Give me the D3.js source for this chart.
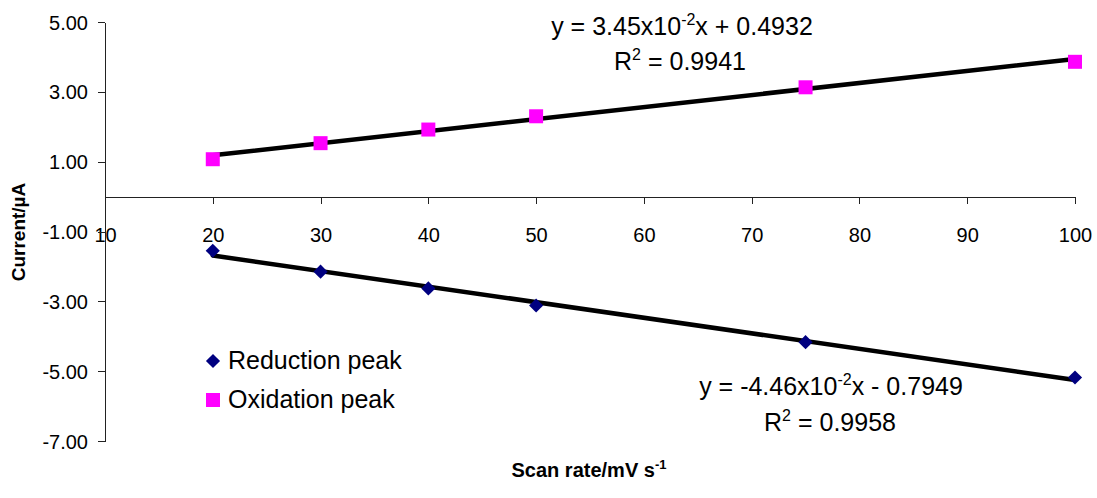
<!DOCTYPE html>
<html>
<head>
<meta charset="utf-8">
<script src="https://cdn.jsdelivr.net/npm/d3@7"></script>
<style>
    body { margin: 0; background: #fff; }
    svg { display: block; font-family: Arial, "Liberation Sans", sans-serif; }
</style>
</head>
<body>
<div id="chart"></div>
<script>
const width = 1097,
    height = 498;

// scan rate (mV/s) and peak currents (µA)
const scanRate = [20, 30, 40, 50, 75, 100];
const reductionPeak = [-1.55, -2.15, -2.63, -3.12, -4.17, -5.18];
const oxidationPeak = [1.07, 1.53, 1.92, 2.30, 3.13, 3.86];

// linear fits: [slope, intercept]
const reductionFit = [-0.0446, -0.7949];
const oxidationFit = [0.0345, 0.4932];
const fitRange = [20, 100];

const xTicks = [10, 20, 30, 40, 50, 60, 70, 80, 90, 100];
const yTicks = [5, 3, 1, -1, -3, -5, -7];

const x = d3.scaleLinear().domain([10, 100]).range([105, 1075]);
const y = d3.scaleLinear().domain([-7, 5]).range([441, 22]);

const svg = d3.select("#chart")
    .append("svg")
    .attr("width", width)
    .attr("height", height);

// axes
const xAxis = svg.append("g")
    .attr("transform", `translate(0, ${y(0)})`)
    .call(d3.axisBottom(x).tickValues(xTicks).tickSize(7).tickSizeOuter(0).tickPadding(24));

const yAxis = svg.append("g")
    .attr("transform", `translate(${x(10)}, 0)`)
    .call(d3.axisLeft(y).tickValues(yTicks).tickSize(7).tickSizeOuter(0).tickPadding(10)
        .tickFormat(d => d.toFixed(2)));

[xAxis, yAxis].forEach(g => {
    g.selectAll("path, line").attr("stroke", "#222").attr("shape-rendering", "crispEdges");
    g.selectAll("text")
        .attr("fill", "#000")
        .style("font-family", "Arial, 'Liberation Sans', sans-serif")
        .style("font-size", "20px");
});
yAxis.selectAll("text").attr("dy", "0.35em");

// trend lines
const fitLine = (fit) => fitRange.map(v => [x(v), y(fit[0] * v + fit[1])]);
[reductionFit, oxidationFit].forEach(fit => {
    svg.append("path")
        .attr("d", d3.line()(fitLine(fit)))
        .attr("stroke", "#000")
        .attr("stroke-width", 4.5)
        .attr("stroke-linecap", "round")
        .attr("fill", "none");
});

// markers
const diamond = d3.symbol().type(d3.symbolSquare).size(100);
const square = d3.symbol().type(d3.symbolSquare).size(196);

svg.selectAll(".red")
    .data(scanRate)
    .join("path")
    .attr("d", diamond)
    .attr("transform", (d, i) => `translate(${x(d)}, ${y(reductionPeak[i])}) rotate(45)`)
    .attr("fill", "#000080");

svg.selectAll(".ox")
    .data(scanRate)
    .join("path")
    .attr("d", square)
    .attr("transform", (d, i) => `translate(${x(d)}, ${y(oxidationPeak[i])})`)
    .attr("fill", "#ff00ff");

// equation labels
function equation(cx, cy, fit) {
    const a = Math.abs(fit[0] * 100).toFixed(2);
    const sa = fit[0] < 0 ? "-" : "";
    const sb = fit[1] < 0 ? " - " : " + ";
    const t = svg.append("text")
        .attr("x", cx).attr("y", cy)
        .attr("text-anchor", "middle")
        .style("font-size", "25px");
    t.append("tspan").text(`y = ${sa}${a}x10`);
    t.append("tspan").attr("dy", -10).style("font-size", "16px").text("-2");
    t.append("tspan").attr("dy", 10).text(`x${sb}${Math.abs(fit[1]).toFixed(4)}`);
}
function rSquared(cx, cy, r2) {
    const t = svg.append("text")
        .attr("x", cx).attr("y", cy)
        .attr("text-anchor", "middle")
        .style("font-size", "25px");
    t.append("tspan").text("R");
    t.append("tspan").attr("dy", -10).style("font-size", "16px").text("2");
    t.append("tspan").attr("dy", 10).text(` = ${r2}`);
}
equation(682, 35, oxidationFit);
rSquared(680, 70, "0.9941");
equation(831, 395, reductionFit);
rSquared(830, 431, "0.9958");

// legend
const legend = svg.append("g");
legend.append("path").attr("d", diamond)
    .attr("transform", "translate(213, 361) rotate(45)").attr("fill", "#000080");
legend.append("text").attr("x", 228).attr("y", 369)
    .style("font-size", "25px").text("Reduction peak");
legend.append("path").attr("d", square)
    .attr("transform", "translate(213, 400)").attr("fill", "#ff00ff");
legend.append("text").attr("x", 228).attr("y", 408)
    .style("font-size", "25px").text("Oxidation peak");

// axis titles
const xt = svg.append("text")
    .attr("x", 589).attr("y", 477)
    .attr("text-anchor", "middle")
    .style("font-size", "20px").style("font-weight", "bold");
xt.append("tspan").text("Scan rate/mV s");
xt.append("tspan").attr("dy", -8).style("font-size", "13px").text("-1");

svg.append("text")
    .attr("transform", "translate(25, 232) rotate(-90)")
    .attr("text-anchor", "middle")
    .style("font-size", "19px").style("font-weight", "bold")
    .text("Current/µA");
</script>
</body>
</html>
